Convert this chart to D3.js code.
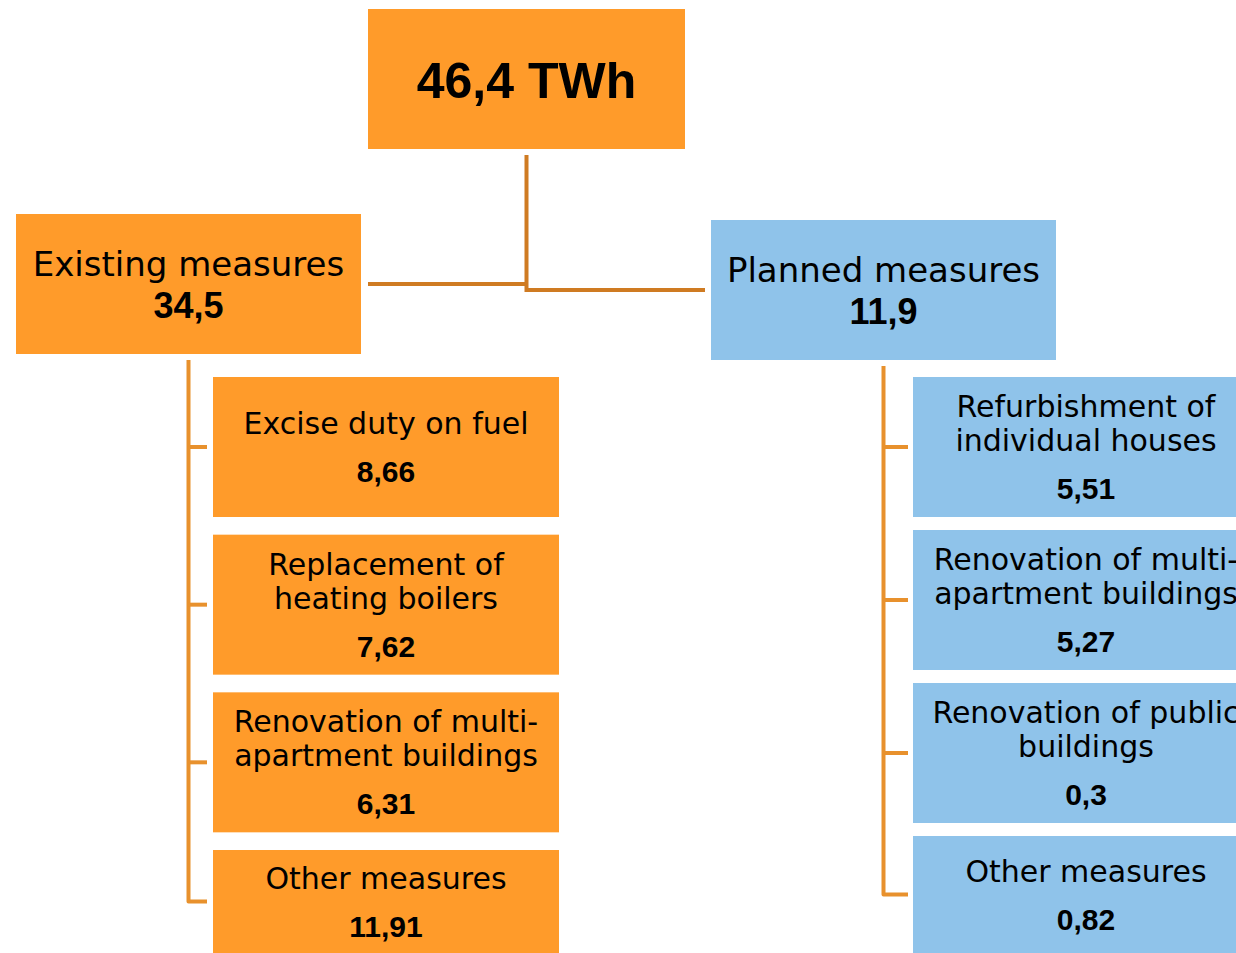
<!DOCTYPE html>
<html>
<head>
<meta charset="utf-8">
<script src="https://cdn.jsdelivr.net/npm/d3@7"></script>
<style>
  html, body { margin: 0; padding: 0; background: #fff; overflow: hidden; }
  svg { display: block; }
</style>
</head>
<body>
<svg id="chart" width="1236" height="953"></svg>
<script>
// ---------------- DATA ----------------
const rootLabel = "46,4 TWh";
const groupNames = ["Existing measures", "Planned measures"];
const groupValues = ["34,5", "11,9"];
const existingLabels = [
  "Excise duty on fuel",
  "Replacement of\nheating boilers",
  "Renovation of multi-\napartment buildings",
  "Other measures"
];
const existingValues = ["8,66", "7,62", "6,31", "11,91"];
const plannedLabels = [
  "Refurbishment of\nindividual houses",
  "Renovation of multi-\napartment buildings",
  "Renovation of public\nbuildings",
  "Other measures"
];
const plannedValues = ["5,51", "5,27", "0,3", "0,82"];

// ---------------- LAYOUT / STYLE ----------------
const W = 1236, H = 953;
const ORANGE = "#FF9B2A", BLUE = "#8FC3EA";
const LINE_ROOT = "#CF7B22", LINE_CHILD = "#E8912D";
const labelFont = "'DejaVu Sans', sans-serif";
const numFont = "'Liberation Sans', Arial, sans-serif";

const svg = d3.select("#chart");
svg.append("rect").attr("width", W).attr("height", H).attr("fill", "#fff");

const rootBox = { x: 368, y: 9, w: 317, h: 140 };
const groupBoxes = [
  { x: 16, y: 214, w: 345, h: 140, fill: ORANGE },
  { x: 711, y: 220, w: 345, h: 140, fill: BLUE }
];
const childCfg = [
  { labels: existingLabels, values: existingValues, x: 213, w: 346, top: [377, 850], fill: ORANGE, tickEnd: 207 },
  { labels: plannedLabels, values: plannedValues, x: 913, w: 346, top: [377, 836], fill: BLUE, tickEnd: 908 }
];

// ---------------- ROOT ----------------
svg.append("rect")
  .attr("x", rootBox.x).attr("y", rootBox.y)
  .attr("width", rootBox.w).attr("height", rootBox.h)
  .attr("fill", ORANGE);
svg.append("text")
  .attr("x", rootBox.x + rootBox.w / 2)
  .attr("y", rootBox.y + 89)
  .attr("text-anchor", "middle")
  .attr("font-family", numFont).attr("font-weight", "bold")
  .attr("font-size", 50)
  .text(rootLabel);

// root connectors
const rootCx = rootBox.x + rootBox.w / 2;
const gCy = groupBoxes.map(b => b.y + b.h / 2);
const conn = svg.append("g").attr("stroke", LINE_ROOT).attr("stroke-width", 4).attr("fill", "none");
conn.append("line")
  .attr("x1", rootCx).attr("x2", rootCx)
  .attr("y1", rootBox.y + rootBox.h + 6).attr("y2", d3.max(gCy) + 2);
conn.append("line")
  .attr("x1", groupBoxes[0].x + groupBoxes[0].w + 7).attr("x2", rootCx)
  .attr("y1", gCy[0]).attr("y2", gCy[0]);
conn.append("line")
  .attr("x1", rootCx).attr("x2", groupBoxes[1].x - 6)
  .attr("y1", gCy[1]).attr("y2", gCy[1]);

// ---------------- GROUPS ----------------
groupBoxes.forEach((b, i) => {
  svg.append("rect")
    .attr("x", b.x).attr("y", b.y).attr("width", b.w).attr("height", b.h)
    .attr("fill", b.fill);
  svg.append("text")
    .attr("x", b.x + b.w / 2).attr("y", b.y + 62)
    .attr("text-anchor", "middle")
    .attr("font-family", labelFont).attr("font-size", 34)
    .text(groupNames[i]);
  svg.append("text")
    .attr("x", b.x + b.w / 2).attr("y", b.y + 104)
    .attr("text-anchor", "middle")
    .attr("font-family", numFont).attr("font-weight", "bold").attr("font-size", 36)
    .text(groupValues[i]);
});

// ---------------- CHILDREN ----------------
childCfg.forEach((c, gi) => {
  const gb = groupBoxes[gi];
  const lineX = gb.x + gb.w / 2;
  const y = d3.scalePoint().domain(d3.range(c.labels.length)).range(c.top);
  const boxes = c.labels.map((lab, i) => {
    const top = y(i);
    const h = Math.min(140, H - top);
    return { top, h, cy: top + h / 2, lab, val: c.values[i] };
  });

  const lg = svg.append("g").attr("stroke", LINE_CHILD).attr("stroke-width", 4).attr("fill", "none");
  const last = boxes[boxes.length - 1];
  lg.append("path")
    .attr("d", `M${lineX},${gb.y + gb.h + 6} V${last.cy} H${c.tickEnd}`)
    .attr("stroke-linejoin", "round");
  boxes.slice(0, -1).forEach(b => {
    lg.append("line").attr("x1", lineX).attr("x2", c.tickEnd).attr("y1", b.cy).attr("y2", b.cy);
  });

  boxes.forEach(b => {
    svg.append("rect")
      .attr("x", c.x).attr("y", b.top).attr("width", c.w).attr("height", b.h)
      .attr("fill", c.fill);
    const lines = b.lab.split("\n");
    const span = (lines.length - 1) * 34 + 48;
    const first = b.cy - span / 2 + 11;
    const cx = c.x + c.w / 2;
    lines.forEach((ln, k) => {
      svg.append("text")
        .attr("x", cx).attr("y", first + k * 34)
        .attr("text-anchor", "middle")
        .attr("font-family", labelFont).attr("font-size", 30)
        .text(ln);
    });
    svg.append("text")
      .attr("x", cx).attr("y", first + span)
      .attr("text-anchor", "middle")
      .attr("font-family", numFont).attr("font-weight", "bold").attr("font-size", 30)
      .text(b.val);
  });
});
</script>
</body>
</html>
